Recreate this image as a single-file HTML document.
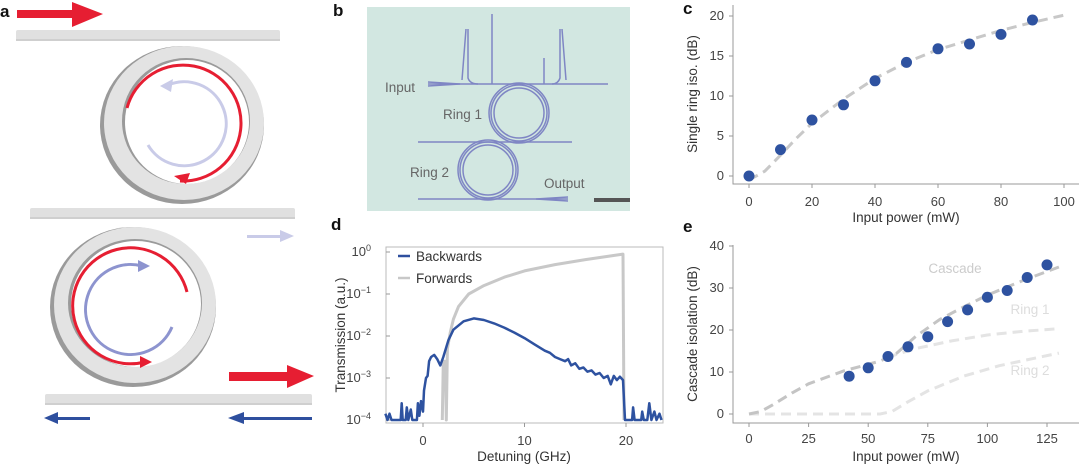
<!DOCTYPE html>
<html><head><meta charset="utf-8">
<style>
html,body{margin:0;padding:0;background:#fff;}
svg{display:block;font-family:"Liberation Sans",sans-serif;}
.t{font-size:13px;fill:#444;}
.l{font-size:13.5px;fill:#333;}
.p{font-size:17px;font-weight:bold;fill:#111;}
</style></head>
<body>
<svg id="s" width="1080" height="466" viewBox="0 0 1080 466" xmlns="http://www.w3.org/2000/svg">
<!-- Panel a -->
<text class="p" x="0" y="17">a</text>
<rect x="17" y="10" width="70" height="8" fill="#e61e32"/>
<polygon points="72,2 103,14 72,27" fill="#e61e32"/>
<rect x="16" y="30" width="264" height="11" rx="2" fill="#e0e0e0"/>
<rect x="16" y="39" width="264" height="2" fill="#cfcfcf"/>
<!-- ring1 -->
<ellipse cx="182" cy="125" rx="82" ry="79" fill="#9a9a9a"/>
<ellipse cx="184" cy="123" rx="80" ry="77" fill="#e3e3e3"/>
<ellipse cx="186" cy="121" rx="64" ry="63" fill="#9a9a9a"/>
<ellipse cx="187" cy="122" rx="62" ry="62" fill="#fff"/>
<path d="M127,108 A58,58 0 1 1 180,181" fill="none" stroke="#e61e32" stroke-width="3"/>
<polygon points="174,176 190,173 186,184" fill="#e61e32"/>
<path d="M148,145 A42,42 0 1 0 168,85" fill="none" stroke="#c9cbe8" stroke-width="3"/>
<polygon points="160,86 173,79 171,92" fill="#c9cbe8"/>
<rect x="30" y="208" width="265" height="11" rx="2" fill="#e0e0e0"/>
<rect x="30" y="217" width="265" height="2" fill="#cfcfcf"/>
<rect x="247" y="235" width="35" height="3" fill="#c9cbe8"/>
<polygon points="280,230 294,236 280,242" fill="#c9cbe8"/>
<!-- ring2 -->
<ellipse cx="133" cy="307" rx="83" ry="80" fill="#9a9a9a"/>
<ellipse cx="135" cy="305" rx="81" ry="78" fill="#e3e3e3"/>
<ellipse cx="135" cy="303" rx="67" ry="64" fill="#9a9a9a"/>
<ellipse cx="136" cy="304" rx="65" ry="63" fill="#fff"/>
<path d="M187,292 A58,58 0 1 0 145,362" fill="none" stroke="#e61e32" stroke-width="3"/>
<polygon points="140,356 152,362 140,368" fill="#e61e32"/>
<path d="M172,327 A45,45 0 1 1 142,266" fill="none" stroke="#8d94cf" stroke-width="3"/>
<polygon points="138,260 150,266 138,272" fill="#8d94cf"/>
<rect x="229" y="372" width="62" height="9" fill="#e61e32"/>
<polygon points="287,365 314,376 287,388" fill="#e61e32"/>
<rect x="45" y="394" width="267" height="11" rx="2" fill="#e0e0e0"/>
<rect x="45" y="403" width="267" height="2" fill="#cfcfcf"/>
<rect x="55" y="417" width="35" height="3" fill="#2e4f9e"/>
<polygon points="44,418 58,412 58,424" fill="#2e4f9e"/>
<rect x="240" y="417" width="72" height="3" fill="#2e4f9e"/>
<polygon points="228,418 244,412 244,424" fill="#2e4f9e"/>

<!-- Panel b -->
<text class="p" x="333" y="16">b</text>
<rect x="367" y="7" width="263" height="204" fill="#d2e7e1"/>
<g fill="none" stroke="#7f86c4" stroke-width="1.5">
<line x1="428" y1="84" x2="608" y2="84"/>
<line x1="418" y1="142" x2="572" y2="142"/>
<line x1="418" y1="199" x2="568" y2="199"/>
<circle cx="519" cy="113" r="28"/><circle cx="519" cy="113" r="25"/><circle cx="519" cy="113" r="30"/>
<circle cx="488" cy="170" r="28"/><circle cx="488" cy="170" r="25"/><circle cx="488" cy="170" r="30"/>
<path d="M468,29 L468,78 Q470,84 478,84 M466,29 L462,80"/>
<line x1="492" y1="14" x2="492" y2="84"/>
<path d="M560,29 L560,78 Q558,84 552,84 M562,29 L566,80"/>
<line x1="544" y1="58" x2="544" y2="84"/>
<path d="M428,82 L460,84 L428,86"/>
<path d="M568,197 L536,199 L568,201"/>
</g>
<text class="l" x="385" y="92" style="fill:#666">Input</text>
<text class="l" x="443" y="119" style="fill:#666">Ring 1</text>
<text class="l" x="410" y="177" style="fill:#666">Ring 2</text>
<text class="l" x="544" y="188" style="fill:#666">Output</text>
<rect x="594" y="198" width="36" height="4" fill="#555"/>

<!-- Panel c -->
<text class="p" x="683" y="14">c</text>
<polyline points="733,5 733,184 1079,184" fill="none" stroke="#999" stroke-width="1"/>
<g id="cax"></g>
<text class="l" x="906" y="222" text-anchor="middle">Input power (mW)</text>
<text class="l" transform="translate(697,94) rotate(-90)" text-anchor="middle">Single ring iso. (dB)</text>

<!-- Panel d -->
<text class="p" x="331" y="230">d</text>
<rect x="386" y="247" width="277" height="176" fill="none" stroke="#bbb" stroke-width="1"/>
<g id="dax"></g>
<text class="l" x="524" y="461" text-anchor="middle">Detuning (GHz)</text>
<text class="l" transform="translate(345,335) rotate(-90)" text-anchor="middle">Transmission (a.u.)</text>
<line x1="398" y1="256" x2="410" y2="256" stroke="#2e4f9e" stroke-width="2.5"/>
<text class="l" x="416" y="261">Backwards</text>
<line x1="398" y1="278" x2="410" y2="278" stroke="#c8c8c8" stroke-width="2.5"/>
<text class="l" x="416" y="283">Forwards</text>

<!-- Panel e -->
<text class="p" x="683" y="232">e</text>
<polyline points="733,245 733,423 1079,423" fill="none" stroke="#999" stroke-width="1"/>
<g id="eax"></g>
<text class="l" x="906" y="461" text-anchor="middle">Input power (mW)</text>
<text class="l" transform="translate(697,334) rotate(-90)" text-anchor="middle">Cascade isolation (dB)</text>
<text class="l" x="955" y="273" text-anchor="middle" style="fill:#ccc">Cascade</text>
<text class="l" x="1030" y="314" text-anchor="middle" style="fill:#ddd">Ring 1</text>
<text class="l" x="1030" y="375" text-anchor="middle" style="fill:#ddd">Ring 2</text>
</svg>
<script>
var NS="http://www.w3.org/2000/svg";
function el(p,tag,a,txt){var e=document.createElementNS(NS,tag);for(var k in a)e.setAttribute(k,a[k]);if(txt!=null)e.textContent=txt;document.getElementById(p).appendChild(e);return e;}
function pts(arr,fx,fy){return arr.map(function(p){return fx(p[0]).toFixed(1)+","+fy(p[1]).toFixed(1)}).join(" ");}
// c
var cx=function(v){return 749+3.15*v},cy=function(v){return 176-8*v};
[0,20,40,60,80,100].forEach(function(v){el("cax","line",{x1:cx(v),y1:184,x2:cx(v),y2:188,stroke:"#999"});el("cax","text",{x:cx(v),y:206,"text-anchor":"middle","class":"t"},v)});
[0,5,10,15,20].forEach(function(v){el("cax","line",{x1:729,y1:cy(v),x2:733,y2:cy(v),stroke:"#999"});el("cax","text",{x:724,y:cy(v)+4,"text-anchor":"end","class":"t"},v)});
el("cax","polyline",{points:pts([[0,-0.5],[5,0.6],[10,2.6],[15,4.7],[20,6.6],[30,9.6],[40,12.2],[50,14.2],[60,15.8],[70,17],[80,18.2],[90,19.2],[100,20.1]],cx,cy),fill:"none",stroke:"#c8c8c8","stroke-width":3,"stroke-dasharray":"10,6"});
[[0,0],[10,3.3],[20,7],[30,8.9],[40,11.9],[50,14.2],[60,15.9],[70,16.5],[80,17.7],[90,19.5]].forEach(function(p){el("cax","circle",{cx:cx(p[0]),cy:cy(p[1]),r:5.5,fill:"#2e52a0"})});
// e
var ex=function(v){return 749+2.384*v},ey=function(v){return 414-4.2*v};
[0,25,50,75,100,125].forEach(function(v){el("eax","line",{x1:ex(v),y1:423,x2:ex(v),y2:427,stroke:"#999"});el("eax","text",{x:ex(v),y:443,"text-anchor":"middle","class":"t"},v)});
[0,10,20,30,40].forEach(function(v){el("eax","line",{x1:729,y1:ey(v),x2:733,y2:ey(v),stroke:"#999"});el("eax","text",{x:724,y:ey(v)+4,"text-anchor":"end","class":"t"},v)});
var dash={fill:"none","stroke-width":3,"stroke-dasharray":"10,6"};
function dl(a,c){var o=Object.assign({},dash);o.points=pts(a,ex,ey);o.stroke=c;el("eax","polyline",o);}
dl([[0,0],[55,0],[60,0.6],[67,3],[75,5.5],[90,9],[105,11.5],[130,14.5]],"#e4e4e4");
dl([[58,13.5],[70,15.6],[85,17.4],[100,18.8],[115,19.7],[130,20.3]],"#e4e4e4");
dl([[0,0],[5,0.6],[10,2.2],[18,5],[25,7.2],[40,10.3],[55,12.6],[62,14.5],[70,18.5],[80,22.5],[90,25.5],[100,28.3],[115,31.8],[130,35]],"#c4c4c4");
[[42,9],[50,11],[58.3,13.7],[66.7,16],[75,18.4],[83.3,22],[91.7,24.8],[100,27.8],[108.3,29.4],[116.7,32.5],[125,35.5]].forEach(function(p){el("eax","circle",{cx:ex(p[0]),cy:ey(p[1]),r:5.5,fill:"#2e52a0"})});
// d
var dx=function(v){return 423+10.15*v},dy=function(v){return 252-42*v};
[0,10,20].forEach(function(v){el("dax","line",{x1:dx(v),y1:423,x2:dx(v),y2:427,stroke:"#999"});el("dax","text",{x:dx(v),y:445,"text-anchor":"middle","class":"t"},v)});
[0,-1,-2,-3,-4].forEach(function(v){el("dax","line",{x1:386,y1:dy(v),x2:390,y2:dy(v),stroke:"#999"});var t=el("dax","text",{x:371,y:dy(v)+4,"text-anchor":"end","class":"t"},"10");var s=document.createElementNS(NS,"tspan");s.setAttribute("dy","-5");s.setAttribute("font-size","9");s.textContent=v==0?"0":"\u2212"+(-v);t.appendChild(s);});
var fw=[[1.9,-4],[2.0,-2.6],[2.2,-2.6],[2.3,-4],[2.4,-2.3],[2.7,-1.9],[3,-1.6],[3.5,-1.3],[4.5,-1.0],[6,-0.8],[8,-0.6],[10,-0.45],[13,-0.3],[16,-0.18],[19.7,-0.05],[19.8,-4]];
el("dax","polyline",{points:pts(fw,dx,dy),fill:"none",stroke:"#c8c8c8","stroke-width":3,"stroke-linejoin":"round"});
var bw=[[-3.7,-3.85],[-3.5,-4],[-3.3,-3.85],[-3.1,-4],[-2.2,-4],[-2.1,-3.6],[-2,-4],[-1.7,-4],[-1.6,-3.7],[-1.45,-4],[-1.2,-3.75],[-1.05,-4],[-0.6,-4],[-0.5,-3.6],[-0.35,-3.9],[-0.2,-3.55],[0,-3.8],[0.1,-3.3],[0.3,-3.0],[0.45,-2.95],[0.6,-2.6],[0.8,-2.5],[1.1,-2.45],[1.4,-2.55],[1.7,-2.7],[2,-2.5],[2.5,-2.1],[3,-1.85],[4,-1.65],[5,-1.58],[6,-1.62],[7,-1.7],[8,-1.8],[9,-1.92],[10,-2.05],[11,-2.2],[12,-2.35],[12.5,-2.4],[13,-2.5],[13.5,-2.55],[14,-2.6],[14.3,-2.55],[14.6,-2.7],[15,-2.65],[15.4,-2.78],[15.8,-2.75],[16.2,-2.85],[16.6,-2.82],[17,-2.92],[17.4,-2.88],[17.8,-3.0],[18.2,-2.95],[18.5,-3.15],[18.8,-2.95],[19.1,-3.05],[19.4,-2.97],[19.7,-3.05],[19.9,-4],[20.6,-4],[20.7,-3.7],[20.85,-4],[21.5,-4],[21.6,-3.8],[21.75,-4],[22.1,-4],[22.3,-3.6],[22.5,-4],[22.8,-3.8],[23,-4],[23.3,-3.85],[23.5,-4]];
el("dax","polyline",{points:pts(bw,dx,dy),fill:"none",stroke:"#2e52a0","stroke-width":2.5,"stroke-linejoin":"round"});
</script>
</body></html>
